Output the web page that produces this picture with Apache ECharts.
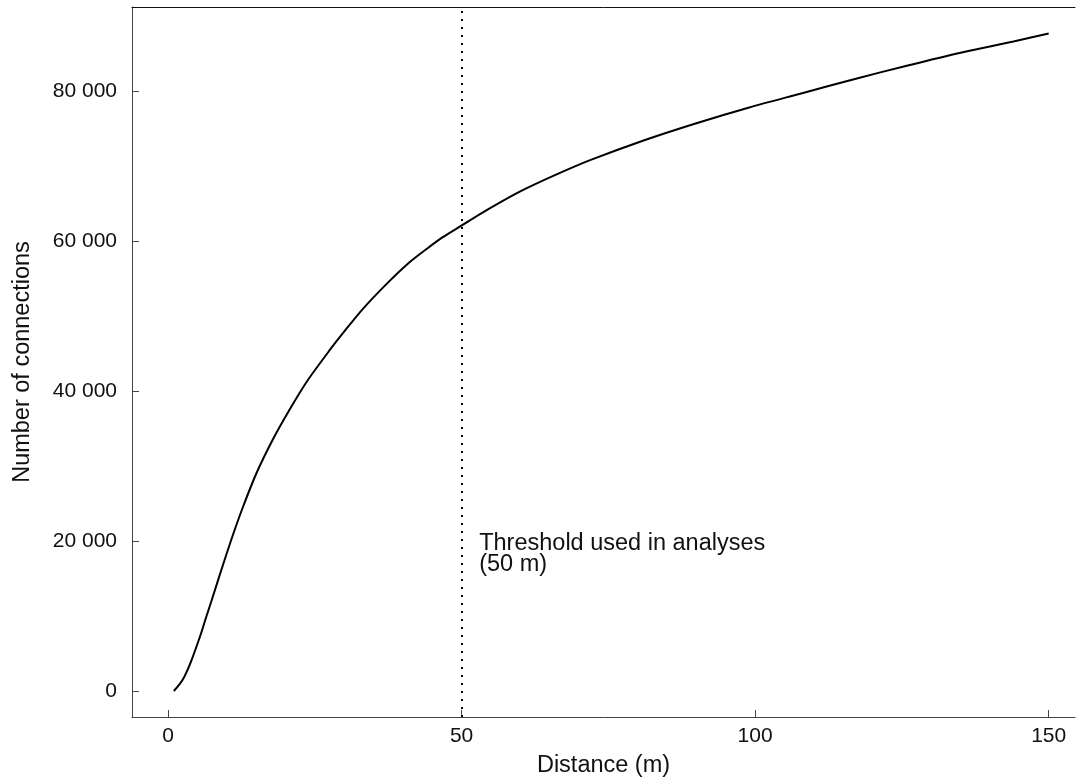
<!DOCTYPE html>
<html>
<head>
<meta charset="utf-8">
<script src="https://cdn.jsdelivr.net/npm/echarts@6/dist/echarts.min.js"></script>
<style>
html,body{margin:0;padding:0;background:#fff;}
#chart{width:1076px;height:782px;}
</style>
</head>
<body>
<div id="chart"></div>
<script>
// Distance (m)
const distances = [1, 2.5, 3.9, 5.6, 6.4, 7.4, 9.4, 11.1, 12.8, 15.1, 17.9, 20.7, 23.6, 27.6, 30.1, 33.2, 37.2, 40.9, 44.0, 46.8, 49.9, 54.5, 60, 66, 72, 81, 90, 99, 108, 117, 126, 135, 144, 150];
// Number of connections
const connections = [0, 1500, 3900, 7600, 9600, 12000, 16900, 20900, 24600, 29100, 33600, 37500, 41200, 45500, 48000, 50950, 54250, 57000, 58900, 60500, 62000, 64200, 66600, 68800, 70800, 73400, 75700, 77800, 79700, 81600, 83400, 85100, 86600, 87650];
const xTicks = [0, 50, 100, 150];
const yTicks = [0, 20000, 40000, 60000, 80000];
const threshold = 50;
const annotationText = 'Threshold used in analyses\n(50 m)';
const annotationPos = [53.0, 18300];

const FONT = '"Liberation Sans", Arial, sans-serif';
const chart = echarts.init(document.getElementById('chart'), null, {renderer: 'canvas'});
const fmtY = v => String(v).replace(/\B(?=(\d{3})+(?!\d))/g, ' ');
const X_MIN = -6.13, X_MAX = 154.48;

chart.setOption({
  animation: false,
  backgroundColor: '#fff',
  grid: {left: 132, top: 7, width: 943, height: 710, show: false, containLabel: false, outerBoundsMode: 'none'},
  xAxis: [{
    type: 'value', min: X_MIN, max: X_MAX,
    name: 'Distance (m)', nameLocation: 'middle', nameGap: 37,
    nameTextStyle: {fontFamily: FONT, fontSize: 23.5, color: '#111'},
    axisLine: {show: true, onZero: false, lineStyle: {color: '#444', width: 1}},
    axisTick: {show: true, inside: true, length: 7, customValues: xTicks, lineStyle: {color: '#444'}},
    axisLabel: {customValues: xTicks, margin: 9, fontFamily: FONT, fontSize: 21, color: '#111'},
    splitLine: {show: false}
  }, {
    type: 'value', position: 'top', min: X_MIN, max: X_MAX,
    axisLine: {show: true, onZero: false, lineStyle: {color: '#111', width: 1}},
    axisTick: {show: false}, axisLabel: {show: false}, splitLine: {show: false}
  }],
  yAxis: {
    type: 'value', min: -3465, max: 91190,
    name: 'Number of connections', nameLocation: 'middle', nameGap: 97,
    nameTextStyle: {fontFamily: FONT, fontSize: 23.5, color: '#111'},
    axisLine: {show: true, onZero: false, lineStyle: {color: '#444', width: 1}},
    axisTick: {show: true, inside: true, length: 7, customValues: yTicks, lineStyle: {color: '#444'}},
    axisLabel: {customValues: yTicks, margin: 15, fontFamily: FONT, fontSize: 21, color: '#111', formatter: fmtY},
    splitLine: {show: false}
  },
  series: [{
    type: 'line',
    xAxisIndex: 0,
    data: distances.map((d, i) => [d, connections[i]]),
    showSymbol: false,
    smooth: 0.3,
    lineStyle: {color: '#000', width: 2},
    markLine: {
      silent: true, symbol: 'none',
      lineStyle: {color: '#000', width: 2, type: [2, 6]},
      label: {show: false},
      data: [{xAxis: threshold}]
    },
    markPoint: {
      silent: true,
      symbol: 'circle', symbolSize: 0,
      data: [{coord: annotationPos}],
      label: {show: true, position: 'inside', align: 'left', verticalAlign: 'middle',
        formatter: annotationText, fontFamily: FONT, fontSize: 23.5, lineHeight: 21, color: '#111'}
    }
  }]
});
</script>
</body>
</html>
